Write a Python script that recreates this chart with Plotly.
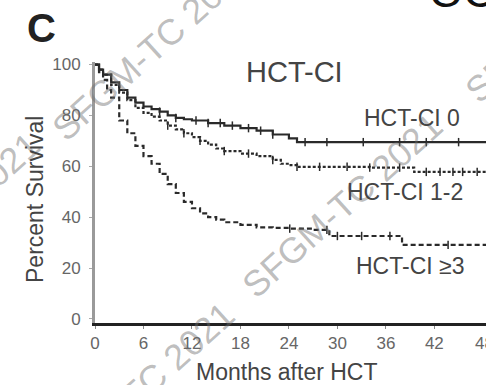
import plotly.graph_objects as go

# ---- data (Kaplan-Meier step curves, months after HCT vs percent survival) ----
t_ci0 = [0, 0.5, 1, 2, 3, 4, 5, 6, 7, 8, 9, 10, 11, 12, 14, 16, 18, 20, 22, 24, 25, 48.4]
s_ci0 = [100, 98, 96, 93, 90, 87, 85, 83.5, 82.5, 81.5, 80, 79, 78.5, 78, 77, 76, 75, 74, 72.5, 71, 69.5, 69.5]
c_ci0 = [8, 10, 12.5, 14, 15.5, 17, 19, 20.5, 22, 26, 28.7, 33.2, 37.7, 41, 45]

t_ci12 = [0, 0.5, 1, 2, 3, 4, 5, 6, 7, 8, 9, 10, 11, 12, 13, 14, 15, 16, 18, 20, 22, 23, 24, 25, 30, 34, 39.5, 48.4]
s_ci12 = [100, 98, 96, 92, 89, 86, 83, 81, 79.5, 78, 76, 74.5, 73, 71.5, 70, 68.5, 67, 66, 65, 64, 62.5, 61, 60.5, 59.8, 59.8, 59.5, 57.8, 57.8]
c_ci12 = [9, 11, 13, 16, 19, 22, 25, 27.8, 31.2, 34, 37.7, 41, 42.7, 44.3, 45.5, 47.3]

t_ci3 = [0, 0.5, 1, 1.5, 2, 3, 4, 5, 6, 7, 8, 9, 10, 11, 12, 13, 14, 15, 16, 18, 20, 22, 24, 27, 29, 38, 48.4]
s_ci3 = [100, 97, 94, 90, 87, 78, 73, 68, 64, 61, 57, 53, 49.5, 46, 43.5, 41.5, 40, 39, 38, 37, 36, 35.8, 35.5, 35, 32.6, 29.1, 29.1]
c_ci3 = [24.1, 28.7, 30, 33, 36.5, 43.7]

x_ticks = [0, 6, 12, 18, 24, 30, 36, 42, 48]
y_ticks = [0, 20, 40, 60, 80, 100]
group_labels = ["HCT-CI 0", "HCT-CI 1-2", "HCT-CI \u22653"]


def surv_at(t, ts, ss):
    v = ss[0]
    for ti, si in zip(ts, ss):
        if ti <= t:
            v = si
    return v


FONT = "Liberation Sans, Arial, sans-serif"
LINE = "#2a2a2a"

fig = go.Figure()
styles = [("solid", 2.2), ("3px,2px", 2.2), ("5px,3px", 2.2)]
for (ts, ss, cs), (dash, w) in zip([(t_ci0, s_ci0, c_ci0), (t_ci12, s_ci12, c_ci12), (t_ci3, s_ci3, c_ci3)], styles):
    fig.add_trace(go.Scatter(x=ts, y=ss, mode="lines", line=dict(shape="hv", color=LINE, width=w, dash=dash),
                             showlegend=False, hoverinfo="skip"))
    fig.add_trace(go.Scatter(x=cs, y=[surv_at(c, ts, ss) for c in cs], mode="markers",
                             marker=dict(symbol="line-ns", size=6, line=dict(color=LINE, width=1.5)),
                             showlegend=False, hoverinfo="skip"))

# plot area in pixels
L, T, R, B = 95, 62, 486, 323
W, H = 486, 385


def px(x):
    return (x - L) / (R - L)


def py(y):
    return (B - y) / (B - T)


ann = []


def add_text(text, x, y, size, color, bold=False, angle=0, xanchor="center", yanchor="middle"):
    ann.append(dict(text=f"<b>{text}</b>" if bold else text, x=px(x), y=py(y), xref="paper", yref="paper",
                    showarrow=False, textangle=angle, xanchor=xanchor, yanchor=yanchor,
                    font=dict(family=FONT, size=size, color=color)))


# watermarks
wm = "SFGM-TC 2021"
for cx, cy in [(152, 48), (342, 205), (565, 10), (134, 394), (-60, 225)]:
    add_text(wm, cx, cy, 36, "rgba(110,110,110,0.45)", angle=-42)

add_text("HCT-CI", 294, 72, 29, "#444")
add_text(group_labels[0], 412, 118, 23, "#444")
add_text(group_labels[1], 405, 192, 23, "#444")
add_text(group_labels[2], 410, 266, 23, "#444")
add_text("Months after HCT", 287, 372, 23, "#444")
add_text("Percent Survival", 35, 200, 23, "#444", angle=-90)
add_text("C", 41, 28, 40, "#222", bold=True)
add_text("OC", 462, -8, 44, "#111")
# last x tick label, cut by the right edge as in the reference
add_text(str(x_ticks[-1]), 484, 343, 17, "#666")

fig.update_layout(
    width=W, height=H,
    margin=dict(l=L, r=W - R, t=T, b=H - B),
    paper_bgcolor="white", plot_bgcolor="white",
    annotations=ann,
    xaxis=dict(range=[0, (R - L) / 8.08], tickvals=x_ticks[:-1], ticktext=[str(v) for v in x_ticks[:-1]],
               showgrid=False, zeroline=False, showline=True, linecolor="#222", linewidth=2.5,
               ticks="outside", ticklen=3, tickcolor="#888", ticklabelstandoff=0,
               tickfont=dict(family=FONT, size=17, color="#666")),
    yaxis=dict(range=[-1.6, 101], tickvals=y_ticks, ticktext=[str(v) for v in y_ticks],
               showgrid=False, zeroline=False, showline=True, linecolor="#9a9a9a", linewidth=3,
               ticks="outside", ticklen=3, tickcolor="#aaa", ticklabelstandoff=5,
               tickfont=dict(family=FONT, size=17, color="#666")),
)

fig.write_html("out.html")
